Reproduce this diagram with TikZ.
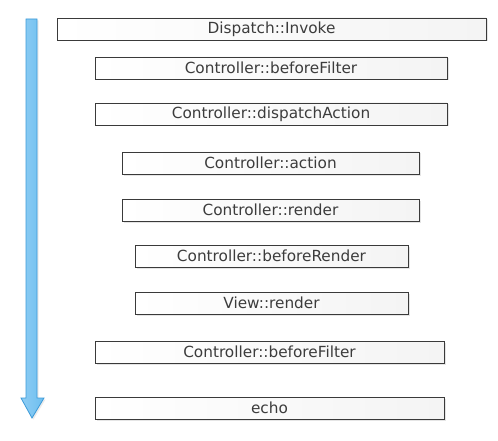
\documentclass[tikz,border=0pt]{standalone}
\usepackage{fontspec}
\setmainfont{DejaVu Sans}
\usetikzlibrary{shadows}
\definecolor{boxline}{HTML}{3A3A3A}
\definecolor{boxmid}{HTML}{F3EEE9}
\definecolor{boxend}{HTML}{F4F4F4}
\definecolor{txt}{HTML}{3C3C3C}
\definecolor{arrfill}{HTML}{6DBEEF}
\definecolor{arrlight}{HTML}{8ECDF4}
\definecolor{arrline}{HTML}{3C9AD8}
\tikzset{
  stepbox/.style={draw=boxline, line width=0.9pt, left color=white, middle color=boxmid, right color=boxend,
    inner sep=0pt, text=txt, font=\fontsize{15.3}{17}\selectfont,
    drop shadow={shadow xshift=1.5pt, shadow yshift=-1.5pt, fill=black!10, opacity=1}},
}
\begin{document}
\begin{tikzpicture}[x=1pt,y=-1pt]
\useasboundingbox (0,0) rectangle (498,441);
\fill[white] (0,0) rectangle (498,441);
% boxes: (left,top) -- (right,bottom)
\newcommand{\stepnode}[6]{%
  \node[stepbox, minimum width={#4-#2}, minimum height={#5-#3}] (#1) at ({(#2+#4)/2},{(#3+#5)/2}) {#6};}
\stepnode{b1}{57}{18}{486}{40}{Dispatch::Invoke}
\stepnode{b2}{95}{57}{447}{79}{Controller::beforeFilter}
\stepnode{b3}{95}{103}{447}{125}{Controller::dispatchAction}
\stepnode{b4}{122}{152}{419}{174}{Controller::action}
\stepnode{b5}{122}{199}{419}{221}{Controller::render}
\stepnode{b6}{135}{245}{408}{267}{Controller::beforeRender}
\stepnode{b7}{135}{292}{408}{314}{View::render}
\stepnode{b8}{95}{341}{444}{363}{Controller::beforeFilter}
\stepnode{b9}{95}{397}{444}{419}{echo}
% timeline arrow
\fill[black!8] (27.5,20.5) -- (38.5,20.5) -- (38.5,399.5) -- (45.5,399.5) -- (33.5,419.5) -- (22.5,399.5) -- (27.5,399.5) -- cycle;
\draw[arrline, line width=0.8pt, left color=arrlight, right color=arrfill]
  (26,19) -- (37,19) -- (37,398) -- (44,398) -- (32,418) -- (21,398) -- (26,398) -- cycle;
\end{tikzpicture}
\end{document}
